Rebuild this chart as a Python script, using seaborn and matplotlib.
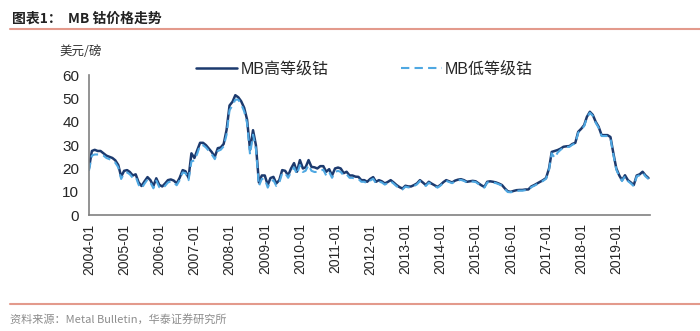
import numpy as np
import pandas as pd
import matplotlib
matplotlib.use("Agg")
import matplotlib.pyplot as plt
import matplotlib.dates as mdates
import seaborn as sns

# ---- data (monthly, USD/lb) ----
start_month = "2004-01-01"
high_2004_2007 = [20, 27.5, 28, 27.5, 27.5, 26.5, 25.5, 25, 24.5, 23.5, 21.5, 16.5,
                  19, 19.3, 18.5, 17, 17.5, 14, 12.5, 14.5, 16.3, 15, 12.5, 15.8,
                  13, 12.3, 13.5, 15, 15.3, 14.8, 13.6, 16, 19.3, 18.8, 16, 26.5,
                  24.5, 28, 31, 31, 30, 28.5, 27, 25, 28.7, 29, 30.5, 36.5]
high_2008_2011 = [47, 48.6, 51.4, 50.5, 48.8, 46, 41, 28, 36.4, 30, 14, 17,
                  17, 12.9, 15.9, 16.4, 13.6, 15, 19.3, 19, 17, 20, 22.3, 18.6,
                  23.6, 20, 20.5, 23.6, 20.7, 20.5, 20, 21, 21, 18.6, 19.7, 17,
                  20, 20.4, 20, 18, 18.6, 17, 17, 16.5, 16.4, 15, 15, 14.3]
high_2012_2015 = [15.5, 16.3, 14.3, 15, 14.5, 13.6, 14.2, 15, 14, 12.9, 12, 11.4,
                  12.6, 12.3, 12.3, 12.9, 13.6, 15, 14, 12.9, 14.3, 13.5, 12.8, 12.1,
                  13, 14.2, 15, 14.5, 14, 14.8, 15.2, 15.4, 15, 14.3, 14.5, 14.7,
                  14.5, 13.6, 12.8, 12.1, 14.3, 14.5, 14.3, 14, 13.5, 12.9, 11.4, 10.2]
high_2016_2019 = [10, 10.4, 10.7, 10.8, 10.8, 11, 11, 12.3, 12.9, 13.6, 14.3, 15,
                  15.9, 20, 27.1, 27.5, 27.9, 28.5, 29.3, 29.5, 29.6, 30.5, 31, 35.7,
                  37, 38.6, 42.1, 44.3, 43, 40, 37.9, 34.3, 34.3, 34.3, 33.5, 26.6,
                  20, 17, 15, 17.1, 15, 14, 12.9, 17, 17.5, 18.6, 17, 15.9]

low_2004_2007 = [19, 25.5, 26, 26, 26, 25.5, 24.5, 24, 23.5, 22.5, 20.5, 15.5,
                 18, 18.3, 17.5, 16, 16.5, 13, 11.5, 13.5, 15.3, 14, 11.5, 14.8,
                 12, 11.5, 12.5, 14, 14.5, 14, 12.8, 15, 18.3, 18, 15, 23,
                 23.5, 26.5, 30, 30, 29, 27.5, 26, 24, 27.5, 28, 29.5, 34.5]
low_2008_2011 = [45, 47, 49.5, 49.5, 47.5, 44.5, 39.5, 26, 34.5, 28.5, 12.5, 15.5,
                 15.5, 11.8, 14.5, 15, 12.5, 14, 18, 18, 16, 18.5, 20.5, 17.5,
                 21.5, 18.5, 19, 21.5, 19, 18.5, 18.5, 19, 19.5, 17, 18.5, 16,
                 18.5, 19, 18.5, 17, 17.5, 16, 16, 15.5, 15.5, 14.3, 14.3, 13.6]
low_2012_2015 = [14.8, 15.6, 13.6, 14.4, 14, 13.1, 13.7, 14.5, 13.5, 12.4, 11.6, 11,
                 12.2, 11.9, 11.9, 12.5, 13.2, 14.6, 13.6, 12.5, 13.9, 13.1, 12.4, 11.8,
                 12.7, 13.9, 14.7, 14.2, 13.7, 14.5, 14.9, 15.1, 14.7, 14, 14.2, 14.4,
                 14.2, 13.3, 12.5, 11.8, 14, 14.2, 14, 13.7, 13.2, 12.6, 11.1, 9.9]
low_2016_2019 = [9.8, 10.1, 10.4, 10.5, 10.5, 10.7, 10.7, 12, 12.6, 13.3, 14, 14.7,
                 15.6, 19.5, 26.5, 24.5, 26.8, 28, 28.9, 29.2, 29.3, 30.2, 30.7, 35.3,
                 36.6, 38.2, 41.7, 43.9, 42.6, 39.6, 37.5, 33.9, 33.9, 33.9, 33, 26,
                 19.5, 16.6, 14.6, 16.7, 14.6, 13.6, 12.4, 16.6, 17.1, 18.2, 16.6, 15.5]

series_names = ["MB高等级钴", "MB低等级钴"]
tick_years = list(range(2004, 2020))
y_ticks = [0, 10, 20, 30, 40, 50, 60]
unit_label = "美元/磅"
title_text = "图表1：  MB 钴价格走势"
source_text = "资料来源：Metal Bulletin，华泰证券研究所"

high = high_2004_2007 + high_2008_2011 + high_2012_2015 + high_2016_2019
low = low_2004_2007 + low_2008_2011 + low_2012_2015 + low_2016_2019
dates = pd.date_range(start_month, periods=len(high), freq="MS")
df_high = pd.DataFrame({"date": dates, "value": high})
df_low = pd.DataFrame({"date": dates, "value": low})

# ---- style ----
sns.set_style("white")
plt.rcParams["font.family"] = ["Liberation Sans", "Noto Sans CJK SC", "DejaVu Sans"]
cjk = ["Noto Sans CJK SC", "DejaVu Sans"]

fig = plt.figure(figsize=(7.0, 3.31), dpi=100)
ax = fig.add_axes([0.127, 0.350, 0.802, 0.423])

navy = "#1C3A6E"
light = "#4FA8E2"
sns.lineplot(data=df_high, x="date", y="value", ax=ax, color=navy, linewidth=1.8,
             label=series_names[0])
sns.lineplot(data=df_low, x="date", y="value", ax=ax, color=light, linewidth=1.5,
             linestyle=(0, (4, 2.5)), label=series_names[1])

ax.set_ylim(0, 60)
ax.set_xlim(pd.Timestamp("2004-01-01"), pd.Timestamp("2019-12-20"))
ax.set_yticks(y_ticks)
ax.set_xticks([pd.Timestamp(f"{y}-01-01") for y in tick_years])
ax.xaxis.set_major_formatter(mdates.DateFormatter("%Y-%m"))
ax.tick_params(axis="x", labelrotation=90, labelsize=10, length=4, width=1,
               color="#808080", direction="out", pad=2)
ax.tick_params(axis="y", labelsize=11, length=4, width=1, color="#808080",
               direction="out", pad=3)
ax.set_xlabel("")
ax.set_ylabel("")
for s in ["top", "right"]:
    ax.spines[s].set_visible(False)
for s in ["left", "bottom"]:
    ax.spines[s].set_color("#808080")
    ax.spines[s].set_linewidth(1.2)

leg = ax.legend(loc="upper left", bbox_to_anchor=(0.165, 1.2), ncol=2, frameon=False,
                handlelength=2.6, handletextpad=0.2, columnspacing=4.5,
                prop={"family": ["Liberation Sans", "Noto Sans CJK SC"], "size": 11.5})

# unit label
fig.text(0.085, 0.835, unit_label, fontsize=9, family=cjk, style="italic",
         color="#333333")

# title and lines
fig.text(0.017, 0.945, title_text, fontsize=10, weight="bold", family=cjk,
         color="#222222", va="center")
fig.add_artist(plt.Line2D([0.014, 1.0], [0.912, 0.912], color="#E39A8C", lw=1.5))
fig.add_artist(plt.Line2D([0.014, 1.0], [0.082, 0.082], color="#E39A8C", lw=1.5))
fig.text(0.014, 0.035, source_text, fontsize=8, family=cjk, color="#8C8C8C",
         va="center")

fig.savefig("out.png", dpi=100, facecolor="white")
